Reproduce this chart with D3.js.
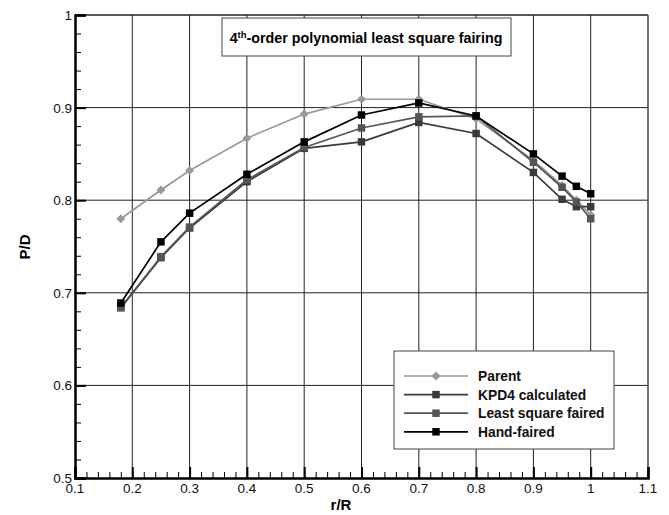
<!DOCTYPE html>
<html>
<head>
<meta charset="utf-8">
<script src="https://cdn.jsdelivr.net/npm/d3@7"></script>
<style>
  body { margin: 0; background: #fff; }
  text { font-family: Arial, "Liberation Sans", sans-serif; }
</style>
</head>
<body>
<script>
// r/R stations
var rR = [0.18, 0.25, 0.3, 0.4, 0.5, 0.6, 0.7, 0.8, 0.9, 0.95, 0.975, 1.0];

var parent     = [0.780, 0.811, 0.832, 0.867, 0.893, 0.909, 0.909, 0.888, 0.843, 0.816, 0.800, 0.784];
var kpd4       = [0.684, 0.738, 0.770, 0.820, 0.856, 0.863, 0.884, 0.872, 0.830, 0.801, 0.793, 0.793];
var leastSq    = [0.684, 0.739, 0.771, 0.822, 0.857, 0.878, 0.890, 0.891, 0.841, 0.814, 0.798, 0.780];
var handFaired = [0.689, 0.755, 0.786, 0.828, 0.863, 0.892, 0.905, 0.891, 0.850, 0.826, 0.815, 0.807];

var xTicks = [0.1, 0.2, 0.3, 0.4, 0.5, 0.6, 0.7, 0.8, 0.9, 1, 1.1];
var yTicks = [0.5, 0.6, 0.7, 0.8, 0.9, 1];

var series = [
  {name: "Parent", vals: parent, color: "#999999", marker: "diamond"},
  {name: "KPD4 calculated", vals: kpd4, color: "#3a3a3a", marker: "square"},
  {name: "Least square faired", vals: leastSq, color: "#555555", marker: "square"},
  {name: "Hand-faired", vals: handFaired, color: "#000000", marker: "square"}
];

var width = 669, height = 515;
var pL = 75, pR = 648, pT = 15, pB = 478;

var svg = d3.select("body").append("svg")
    .attr("width", width)
    .attr("height", height);

var x = d3.scaleLinear().domain([0.1, 1.1]).range([pL, pR]);
var y = d3.scaleLinear().domain([0.5, 1.0]).range([pB, pT]);

// grid
svg.append("g").selectAll("line").data(xTicks.slice(1, -1)).enter().append("line")
    .attr("x1", function(d){ return x(d); }).attr("x2", function(d){ return x(d); })
    .attr("y1", pT).attr("y2", pB)
    .attr("stroke", "#222").attr("stroke-width", 1);
svg.append("g").selectAll("line").data(yTicks.slice(1, -1)).enter().append("line")
    .attr("y1", function(d){ return y(d); }).attr("y2", function(d){ return y(d); })
    .attr("x1", pL).attr("x2", pR)
    .attr("stroke", "#222").attr("stroke-width", 1);

// frame
svg.append("line").attr("x1", pL).attr("x2", pR).attr("y1", pT).attr("y2", pT)
    .attr("stroke", "#222").attr("stroke-width", 1.5);
svg.append("line").attr("x1", pR).attr("x2", pR).attr("y1", pT).attr("y2", pB)
    .attr("stroke", "#444").attr("stroke-width", 1.5);

// axes with inward ticks
var minorX = d3.range(0.1, 1.1001, 0.02);
var minorY = d3.range(0.5, 1.0001, 0.02);

var gx = svg.append("g").attr("transform", "translate(0," + pB + ")");
gx.call(d3.axisTop(x).tickValues(minorX).tickSize(6).tickFormat(""));
gx.select(".domain").remove();
var gx2 = svg.append("g").attr("transform", "translate(0," + pB + ")");
gx2.call(d3.axisTop(x).tickValues(xTicks).tickSize(11).tickFormat(""));
gx2.select(".domain").attr("stroke-width", 2.5);
gx2.selectAll(".tick line").attr("stroke-width", 2);

var gy = svg.append("g").attr("transform", "translate(" + pL + ",0)");
gy.call(d3.axisRight(y).tickValues(minorY).tickSize(6).tickFormat(""));
gy.select(".domain").remove();
var gy2 = svg.append("g").attr("transform", "translate(" + pL + ",0)");
gy2.call(d3.axisRight(y).tickValues(yTicks).tickSize(11).tickFormat(""));
gy2.select(".domain").attr("stroke-width", 2.5);
gy2.selectAll(".tick line").attr("stroke-width", 2);

// tick labels
svg.append("g").selectAll("text").data(xTicks).enter().append("text")
    .attr("x", function(d){ return x(d); }).attr("y", pB + 15)
    .attr("text-anchor", "middle").attr("font-size", 13.5).attr("fill", "#111")
    .text(function(d){ return d3.format("")(d); });
svg.append("g").selectAll("text").data(yTicks).enter().append("text")
    .attr("x", pL - 3).attr("y", function(d){ return y(d) + 5; })
    .attr("text-anchor", "end").attr("font-size", 13.5).attr("fill", "#111")
    .text(function(d){ return d3.format("")(d); });

// axis titles
svg.append("text").attr("x", 341).attr("y", 510).attr("text-anchor", "middle")
    .attr("font-size", 15).attr("font-weight", "bold").text("r/R");
svg.append("text").attr("transform", "translate(30,247) rotate(-90)").attr("text-anchor", "middle")
    .attr("font-size", 15).attr("font-weight", "bold").text("P/D");

// series
var line = d3.line().x(function(d){ return x(d[0]); }).y(function(d){ return y(d[1]); });
var sqr = d3.symbol().type(d3.symbolSquare).size(56);
var dia = d3.symbol().type(d3.symbolSquare).size(40);
function markTf(m, px, py) {
  return "translate(" + px + "," + py + ")" + (m === "diamond" ? " rotate(45)" : "");
}

series.forEach(function(s) {
  var pts = rR.map(function(r, i){ return [r, s.vals[i]]; });
  svg.append("path").datum(pts).attr("d", line)
      .attr("fill", "none").attr("stroke", s.color).attr("stroke-width", 1.7);
  svg.append("g").selectAll("path").data(pts).enter().append("path")
      .attr("d", s.marker === "diamond" ? dia : sqr)
      .attr("transform", function(d){ return markTf(s.marker, x(d[0]), y(d[1])); })
      .attr("fill", s.color);
});

// title box
svg.append("rect").attr("x", 222).attr("y", 18).attr("width", 289).attr("height", 38)
    .attr("fill", "#fff").attr("stroke", "#444").attr("stroke-width", 1);
var t = svg.append("text").attr("x", 366).attr("y", 43).attr("text-anchor", "middle")
    .attr("font-size", 14.3).attr("font-weight", "bold");
t.append("tspan").text("4");
t.append("tspan").attr("font-size", 9.5).attr("dy", -5).text("th");
t.append("tspan").attr("dy", 5).text("-order polynomial least square fairing");

// legend
svg.append("rect").attr("x", 394).attr("y", 351).attr("width", 220).attr("height", 98)
    .attr("fill", "#fff").attr("stroke", "#444").attr("stroke-width", 1);
var lg = svg.append("g").selectAll("g").data(series).enter().append("g")
    .attr("transform", function(d, i){ return "translate(0," + (376 + i * 18.6) + ")"; });
lg.append("line").attr("x1", 404).attr("x2", 468).attr("y1", 0).attr("y2", 0)
    .attr("stroke", function(d){ return d.color; }).attr("stroke-width", 1.7);
lg.append("path").attr("d", function(d){ return d.marker === "diamond" ? dia() : sqr(); })
    .attr("transform", function(d){ return markTf(d.marker, 436, 0); })
    .attr("fill", function(d){ return d.color; });
lg.append("text").attr("x", 478).attr("y", 5).attr("font-size", 13.8).attr("font-weight", "bold")
    .attr("fill", "#111").text(function(d){ return d.name; });
</script>
</body>
</html>
